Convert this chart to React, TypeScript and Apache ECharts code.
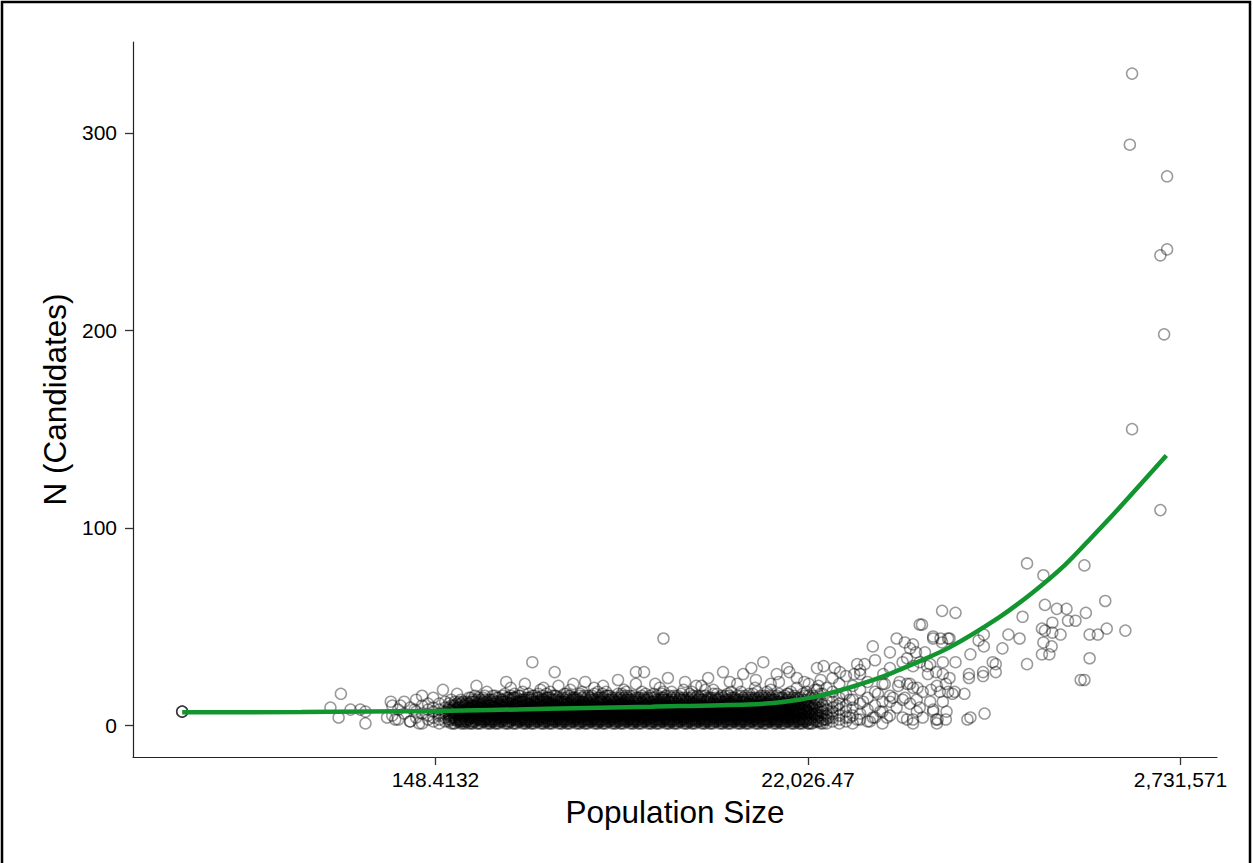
import React, { useEffect, useRef } from "react";
import * as echarts from "echarts";

// x values are ln(population size); y values are candidate counts.
const xTickValues = [5, 10, 15];
const xTickLabels = ["148.4132", "22,026.47", "2,731,571"];
const yTickValues = [0, 100, 200, 300];

// Dense band of municipalities: each entry is [ln(pop), counts at that size]
const bandColumns: [number, number[]][] = [
  [4.42, [5, 10]], [4.5, [3, 8]], [4.58, [6, 12]], [4.66, [2, 9]],
  [4.74, [4, 7, 13]], [4.82, [1, 6, 10]], [4.9, [3, 5, 8, 11]],
  [4.97, [2, 4, 7, 9, 14]],
  [5.05, [1, 3, 5, 6, 8, 11]],
  [5.13, [2, 4, 6, 7, 9, 12]],
  [5.21, [1, 3, 4, 5, 7, 8, 10, 13]],
  [5.29, [2, 3, 5, 6, 8, 9, 11, 16]],
  [5.37, [1, 2, 4, 5, 6, 7, 9, 10, 12]],
  [5.45, [1, 3, 4, 5, 7, 8, 9, 11, 14]],
  [5.53, [2, 3, 4, 6, 7, 8, 10, 12, 15]],
  [5.61, [1, 2, 3, 5, 6, 7, 9, 10, 11, 13]],
  [5.69, [1, 3, 4, 5, 6, 8, 9, 10, 12, 17]],
  [5.77, [2, 3, 4, 5, 7, 8, 9, 11, 13, 15]],
  [5.85, [1, 2, 4, 5, 6, 7, 8, 10, 11, 14]],
  [5.93, [1, 3, 4, 5, 6, 7, 9, 10, 12, 16]],
  [6.01, [2, 3, 4, 5, 6, 8, 9, 11, 13, 15, 19]],
  [6.09, [1, 2, 3, 5, 6, 7, 8, 10, 11, 12, 14]],
  [6.17, [1, 3, 4, 5, 6, 7, 9, 10, 12, 13, 17]],
  [6.25, [2, 3, 4, 5, 6, 8, 9, 10, 11, 14, 16]],
  [6.33, [1, 2, 4, 5, 6, 7, 8, 9, 11, 12, 15]],
  [6.41, [1, 3, 4, 5, 6, 7, 9, 10, 12, 13, 18]],
  [6.49, [2, 3, 4, 5, 7, 8, 9, 11, 12, 14, 16]],
  [6.57, [1, 2, 3, 5, 6, 7, 8, 10, 11, 13, 15]],
  [6.65, [1, 3, 4, 5, 6, 7, 9, 10, 11, 12, 14, 20]],
  [6.73, [2, 3, 4, 5, 6, 8, 9, 10, 12, 13, 16]],
  [6.81, [1, 2, 4, 5, 6, 7, 8, 9, 11, 12, 15, 18]],
  [6.89, [1, 3, 4, 5, 6, 7, 9, 10, 11, 13, 14]],
  [6.97, [2, 3, 4, 5, 7, 8, 9, 10, 12, 14, 17]],
  [7.05, [1, 2, 3, 5, 6, 7, 8, 10, 11, 12, 15]],
  [7.13, [1, 3, 4, 5, 6, 7, 9, 10, 11, 13, 16, 19]],
  [7.21, [2, 3, 4, 5, 6, 8, 9, 10, 12, 13, 14]],
  [7.29, [1, 2, 4, 5, 6, 7, 8, 9, 11, 12, 15, 17]],
  [7.37, [1, 3, 4, 5, 6, 7, 9, 10, 11, 13, 14]],
  [7.45, [2, 3, 4, 5, 7, 8, 9, 10, 12, 13, 16]],
  [7.53, [1, 2, 3, 5, 6, 7, 8, 10, 11, 12, 14, 18]],
  [7.61, [1, 3, 4, 5, 6, 7, 9, 10, 11, 13, 15]],
  [7.69, [2, 3, 4, 5, 6, 8, 9, 10, 12, 13, 14, 21]],
  [7.77, [1, 2, 4, 5, 6, 7, 8, 9, 11, 12, 15, 17]],
  [7.85, [1, 3, 4, 5, 6, 7, 9, 10, 11, 13, 14]],
  [7.93, [2, 3, 4, 5, 7, 8, 9, 10, 12, 14, 16]],
  [8.01, [1, 2, 3, 5, 6, 7, 8, 10, 11, 12, 13, 19]],
  [8.09, [1, 3, 4, 5, 6, 7, 9, 10, 11, 13, 15]],
  [8.17, [2, 3, 4, 5, 6, 8, 9, 10, 12, 13, 14, 17]],
  [8.25, [1, 2, 4, 5, 6, 7, 8, 9, 11, 12, 15]],
  [8.33, [1, 3, 4, 5, 6, 7, 9, 10, 11, 13, 14, 18]],
  [8.41, [2, 3, 4, 5, 7, 8, 9, 10, 12, 13, 16]],
  [8.49, [1, 2, 3, 5, 6, 7, 8, 10, 11, 12, 14]],
  [8.57, [1, 3, 4, 5, 6, 7, 9, 10, 11, 13, 15, 20]],
  [8.65, [2, 3, 4, 5, 6, 8, 9, 10, 12, 13, 14]],
  [8.73, [1, 2, 4, 5, 6, 7, 8, 9, 11, 12, 16, 18]],
  [8.81, [1, 3, 4, 5, 6, 7, 9, 10, 11, 13, 14]],
  [8.89, [2, 3, 4, 5, 7, 8, 9, 10, 12, 13, 15]],
  [8.97, [1, 2, 3, 5, 6, 7, 8, 10, 11, 12, 14, 17]],
  [9.05, [1, 3, 4, 5, 6, 7, 9, 10, 11, 13, 15, 21]],
  [9.13, [2, 3, 4, 5, 6, 8, 9, 10, 12, 13, 14]],
  [9.21, [1, 2, 4, 5, 6, 7, 8, 9, 11, 12, 16]],
  [9.29, [1, 3, 4, 5, 6, 7, 9, 10, 11, 13, 14, 19]],
  [9.37, [2, 3, 4, 5, 7, 8, 9, 10, 12, 13, 15]],
  [9.45, [1, 2, 3, 5, 6, 7, 8, 10, 11, 12, 14, 17]],
  [9.53, [1, 3, 4, 5, 6, 7, 9, 10, 11, 13, 15]],
  [9.61, [2, 3, 4, 5, 6, 8, 9, 10, 12, 14, 16, 22]],
  [9.69, [1, 2, 4, 5, 6, 7, 8, 9, 11, 12, 15]],
  [9.77, [1, 3, 4, 5, 6, 7, 9, 10, 11, 13, 17]],
  [9.85, [2, 3, 4, 5, 7, 8, 10, 12, 14, 19]],
  [9.93, [1, 2, 3, 5, 6, 8, 9, 11, 13, 16]],
  [10.01, [1, 3, 4, 6, 7, 9, 10, 12, 15, 21]],
  [10.09, [2, 3, 5, 6, 8, 10, 11, 14, 18]],
  [10.17, [1, 2, 4, 5, 7, 9, 12, 16, 23]],
  [10.25, [1, 3, 5, 6, 8, 10, 13, 19]],
  [10.33, [2, 4, 6, 7, 9, 12, 17, 24]],
  [10.42, [1, 3, 5, 8, 11, 14, 21]],
  [10.51, [2, 4, 7, 10, 16, 25]],
  [10.6, [1, 5, 9, 13, 20]],
  [10.7, [3, 6, 11, 18, 28]],
  [10.8, [2, 8, 14, 22]],
  [10.9, [4, 10, 17, 33]],
  [11.0, [1, 7, 12, 21]],
  [11.1, [5, 15, 29]],
];

const bandColumnsB: [number, number[]][] = [
  [5.18, [2, 3, 5, 6, 8, 9, 11]],
  [5.26, [1, 3, 4, 6, 7, 8, 10, 12]],
  [5.34, [1, 2, 3, 5, 6, 8, 9, 11, 13]],
  [5.42, [2, 3, 4, 6, 7, 8, 10, 11, 12]],
  [5.5, [1, 2, 4, 5, 6, 7, 9, 10, 12, 13]],
  [5.58, [1, 3, 4, 5, 7, 8, 9, 11, 12, 14]],
  [5.66, [2, 3, 4, 6, 7, 8, 10, 11, 13, 15]],
  [5.74, [1, 2, 3, 5, 6, 7, 9, 10, 12, 13]],
  [5.82, [1, 3, 4, 5, 6, 8, 9, 11, 12, 14]],
  [5.9, [2, 3, 4, 5, 7, 8, 9, 10, 12, 13, 15]],
  [5.98, [1, 2, 4, 5, 6, 7, 8, 10, 11, 13, 14]],
  [6.06, [1, 3, 4, 5, 6, 7, 9, 10, 12, 14, 16]],
  [6.14, [2, 3, 4, 6, 7, 8, 9, 11, 12, 13, 15]],
  [6.22, [1, 2, 3, 5, 6, 7, 8, 10, 11, 13, 14]],
  [6.3, [1, 3, 4, 5, 6, 8, 9, 10, 12, 13, 15]],
  [6.38, [2, 3, 4, 5, 7, 8, 9, 11, 12, 14, 16]],
  [6.46, [1, 2, 4, 5, 6, 7, 8, 10, 11, 12, 13]],
  [6.54, [1, 3, 4, 5, 6, 7, 9, 10, 11, 13, 14, 17]],
  [6.62, [2, 3, 4, 5, 6, 8, 9, 10, 12, 13, 15]],
  [6.7, [1, 2, 3, 5, 6, 7, 8, 9, 11, 12, 14]],
  [6.78, [1, 3, 4, 5, 6, 7, 9, 10, 11, 13, 15]],
  [6.86, [2, 3, 4, 5, 7, 8, 9, 10, 12, 13, 14]],
  [6.94, [1, 2, 4, 5, 6, 7, 8, 10, 11, 12, 15, 16]],
  [7.02, [1, 3, 4, 5, 6, 7, 9, 10, 11, 13, 14]],
  [7.1, [2, 3, 4, 5, 6, 8, 9, 10, 12, 13, 15]],
  [7.18, [1, 2, 3, 5, 6, 7, 8, 9, 11, 12, 14, 17]],
  [7.26, [1, 3, 4, 5, 6, 7, 9, 10, 11, 13, 14]],
  [7.34, [2, 3, 4, 5, 7, 8, 9, 10, 12, 13, 15]],
  [7.42, [1, 2, 4, 5, 6, 7, 8, 10, 11, 12, 14]],
  [7.5, [1, 3, 4, 5, 6, 7, 9, 10, 11, 13, 15, 16]],
  [7.58, [2, 3, 4, 5, 6, 8, 9, 10, 12, 13, 14]],
  [7.66, [1, 2, 3, 5, 6, 7, 8, 9, 11, 12, 15]],
  [7.74, [1, 3, 4, 5, 6, 7, 9, 10, 11, 13, 14]],
  [7.82, [2, 3, 4, 5, 7, 8, 9, 10, 12, 13, 16]],
  [7.9, [1, 2, 4, 5, 6, 7, 8, 10, 11, 12, 14]],
  [7.98, [1, 3, 4, 5, 6, 7, 9, 10, 11, 13, 15]],
  [8.06, [2, 3, 4, 5, 6, 8, 9, 10, 12, 13, 14, 17]],
  [8.14, [1, 2, 3, 5, 6, 7, 8, 9, 11, 12, 15]],
  [8.22, [1, 3, 4, 5, 6, 7, 9, 10, 11, 13, 14]],
  [8.3, [2, 3, 4, 5, 7, 8, 9, 10, 12, 13, 16]],
  [8.38, [1, 2, 4, 5, 6, 7, 8, 10, 11, 12, 14]],
  [8.46, [1, 3, 4, 5, 6, 7, 9, 10, 11, 13, 15]],
  [8.54, [2, 3, 4, 5, 6, 8, 9, 10, 12, 13, 14]],
  [8.62, [1, 2, 3, 5, 6, 7, 8, 9, 11, 12, 15, 18]],
  [8.7, [1, 3, 4, 5, 6, 7, 9, 10, 11, 13, 14]],
  [8.78, [2, 3, 4, 5, 7, 8, 9, 10, 12, 13, 16]],
  [8.86, [1, 2, 4, 5, 6, 7, 8, 10, 11, 12, 14]],
  [8.94, [1, 3, 4, 5, 6, 7, 9, 10, 11, 13, 15]],
  [9.02, [2, 3, 4, 5, 6, 8, 9, 10, 12, 13, 14]],
  [9.1, [1, 2, 3, 5, 6, 7, 8, 9, 11, 12, 15, 17]],
  [9.18, [1, 3, 4, 5, 6, 7, 9, 10, 11, 13, 14]],
  [9.26, [2, 3, 4, 5, 7, 8, 9, 10, 12, 13, 16]],
  [9.34, [1, 2, 4, 5, 6, 7, 8, 10, 11, 12, 14]],
  [9.42, [1, 3, 4, 5, 6, 7, 9, 10, 11, 13, 15]],
  [9.5, [2, 3, 4, 5, 6, 8, 9, 10, 12, 13, 14, 18]],
  [9.58, [1, 2, 3, 5, 6, 7, 8, 9, 11, 12, 15]],
  [9.66, [1, 3, 4, 5, 6, 7, 9, 10, 11, 13, 14]],
  [9.74, [2, 3, 4, 5, 7, 8, 9, 10, 12, 14, 16]],
  [9.82, [1, 2, 4, 5, 6, 8, 10, 11, 13, 15]],
  [9.9, [1, 3, 4, 6, 7, 9, 11, 12, 14]],
  [9.98, [2, 3, 5, 7, 8, 10, 13, 17]],
  [10.06, [1, 4, 6, 9, 11, 15]],
  [10.14, [2, 5, 8, 12, 20]],
];

const bandColumnsC: [number, number[]][] = [
  [5.24, [1, 4, 5, 7, 9, 10]],
  [5.32, [2, 3, 4, 6, 7, 9, 10, 12]],
  [5.4, [1, 2, 3, 5, 6, 7, 8, 10, 11]],
  [5.48, [1, 2, 4, 5, 6, 8, 9, 10, 12, 14]],
  [5.56, [1, 3, 4, 5, 6, 7, 9, 10, 11, 13]],
  [5.64, [2, 3, 4, 5, 7, 8, 9, 11, 12, 14]],
  [5.72, [1, 2, 3, 4, 6, 7, 8, 10, 11, 13]],
  [5.8, [1, 2, 3, 5, 6, 7, 9, 10, 11, 12, 15]],
  [5.88, [2, 3, 4, 5, 6, 8, 9, 10, 12, 13]],
  [5.96, [1, 2, 4, 5, 6, 7, 8, 9, 11, 12, 14]],
  [6.04, [1, 3, 4, 5, 6, 7, 8, 10, 11, 13, 14]],
  [6.12, [2, 3, 4, 5, 6, 7, 9, 10, 11, 12, 15]],
  [6.2, [1, 2, 3, 4, 6, 7, 8, 9, 10, 12, 13]],
  [6.28, [1, 2, 3, 5, 6, 7, 8, 9, 11, 13, 14]],
  [6.36, [2, 3, 4, 5, 6, 7, 9, 10, 11, 12, 14]],
  [6.44, [1, 2, 3, 4, 6, 7, 8, 9, 10, 12, 13, 15]],
  [6.52, [1, 2, 3, 5, 6, 7, 8, 10, 11, 12, 14]],
  [6.6, [2, 3, 4, 5, 6, 7, 9, 10, 11, 13, 15]],
  [6.68, [1, 2, 3, 4, 6, 7, 8, 9, 10, 12, 13]],
  [6.76, [1, 2, 3, 5, 6, 7, 8, 9, 11, 12, 14, 16]],
  [6.84, [2, 3, 4, 5, 6, 7, 9, 10, 11, 13, 14]],
  [6.92, [1, 2, 3, 4, 6, 7, 8, 9, 10, 12, 13]],
  [7.0, [1, 2, 3, 5, 6, 7, 8, 10, 11, 12, 15]],
  [7.08, [2, 3, 4, 5, 6, 7, 9, 10, 11, 13, 14]],
  [7.16, [1, 2, 3, 4, 6, 7, 8, 9, 10, 12, 13]],
  [7.24, [1, 2, 3, 5, 6, 7, 8, 9, 11, 12, 14, 16]],
  [7.32, [2, 3, 4, 5, 6, 7, 9, 10, 11, 13, 15]],
  [7.4, [1, 2, 3, 4, 6, 7, 8, 9, 10, 12, 13]],
  [7.48, [1, 2, 3, 5, 6, 7, 8, 10, 11, 12, 14]],
  [7.56, [2, 3, 4, 5, 6, 7, 9, 10, 11, 13, 15, 17]],
  [7.64, [1, 2, 3, 4, 6, 7, 8, 9, 10, 12, 13]],
  [7.72, [1, 2, 3, 5, 6, 7, 8, 9, 11, 12, 14]],
  [7.8, [2, 3, 4, 5, 6, 7, 9, 10, 11, 13, 14]],
  [7.88, [1, 2, 3, 4, 6, 7, 8, 9, 10, 12, 15]],
  [7.96, [1, 2, 3, 5, 6, 7, 8, 10, 11, 12, 13]],
  [8.04, [2, 3, 4, 5, 6, 7, 9, 10, 11, 13, 14, 16]],
  [8.12, [1, 2, 3, 4, 6, 7, 8, 9, 10, 12, 13]],
  [8.2, [1, 2, 3, 5, 6, 7, 8, 9, 11, 12, 15]],
  [8.28, [2, 3, 4, 5, 6, 7, 9, 10, 11, 13, 14]],
  [8.36, [1, 2, 3, 4, 6, 7, 8, 9, 10, 12, 13]],
  [8.44, [1, 2, 3, 5, 6, 7, 8, 10, 11, 12, 14, 17]],
  [8.52, [2, 3, 4, 5, 6, 7, 9, 10, 11, 13, 15]],
  [8.6, [1, 2, 3, 4, 6, 7, 8, 9, 10, 12, 13]],
  [8.68, [1, 2, 3, 5, 6, 7, 8, 9, 11, 12, 14]],
  [8.76, [2, 3, 4, 5, 6, 7, 9, 10, 11, 13, 14]],
  [8.84, [1, 2, 3, 4, 6, 7, 8, 9, 10, 12, 15]],
  [8.92, [1, 2, 3, 5, 6, 7, 8, 10, 11, 12, 13, 16]],
  [9.0, [2, 3, 4, 5, 6, 7, 9, 10, 11, 13, 14]],
  [9.08, [1, 2, 3, 4, 6, 7, 8, 9, 10, 12, 13]],
  [9.16, [1, 2, 3, 5, 6, 7, 8, 9, 11, 12, 15]],
  [9.24, [2, 3, 4, 5, 6, 7, 9, 10, 11, 13, 14]],
  [9.32, [1, 2, 3, 4, 6, 7, 8, 9, 10, 12, 13, 17]],
  [9.4, [1, 2, 3, 5, 6, 7, 8, 10, 11, 12, 14]],
  [9.48, [2, 3, 4, 5, 6, 7, 9, 10, 11, 13, 15]],
  [9.56, [1, 2, 3, 4, 6, 7, 8, 9, 10, 12, 13]],
  [9.64, [1, 2, 3, 5, 6, 7, 8, 9, 11, 12, 14]],
  [9.72, [2, 3, 4, 5, 6, 7, 9, 10, 11, 13, 16]],
  [9.8, [1, 2, 3, 4, 6, 7, 8, 10, 12, 14]],
  [9.88, [1, 2, 3, 5, 6, 8, 9, 11, 13]],
  [9.96, [2, 3, 4, 6, 7, 9, 10, 12, 15]],
  [10.04, [1, 3, 5, 7, 8, 11, 14]],
  [10.12, [2, 4, 6, 9, 13, 18]],
  [10.2, [1, 3, 7, 10, 16]],
];

// Individual municipalities outside the dense band: [ln(pop), count]
const sparsePoints: [number, number][] = [
  [1.6, 7], [1.6, 7], [1.6, 7],
  [3.59, 9], [3.73, 16], [3.7, 4], [3.86, 8], [3.99, 8], [4.06, 7], [4.06, 1],
  [4.4, 12], [4.35, 4], [4.46, 3], [4.53, 10], [4.66, 2], [4.78, 1], [4.82, 15], [4.72, 8],
  [6.3, 32], [6.6, 27], [7.01, 22], [7.69, 27], [7.8, 27], [8.12, 24], [8.06, 44],
  [8.66, 24], [8.86, 27], [9.24, 29], [9.4, 32], [9.13, 26], [9.72, 29], [9.75, 27],
  [9.58, 26], [10.12, 29], [10.21, 30],
  [5.1, 18], [5.55, 20], [5.95, 22], [6.2, 21], [6.45, 19], [6.85, 21], [7.25, 20],
  [7.45, 23], [7.95, 21], [8.35, 22], [8.5, 20], [8.95, 22], [9.3, 23], [9.5, 21],
  [9.85, 24], [9.95, 22],
  [10.36, 29], [10.43, 27], [10.66, 31], [10.76, 31], [10.62, 26], [10.7, 26],
  [10.87, 40], [11.01, 26], [11.1, 37], [11.19, 44], [11.3, 42], [11.41, 41],
  [11.5, 51], [11.68, 44], [11.8, 42], [11.88, 44], [11.57, 37], [11.27, 32],
  [11.41, 30], [11.6, 30], [11.81, 32], [11.03, 21], [11.21, 20], [11.37, 21],
  [11.47, 19], [11.73, 20], [11.88, 17], [10.94, 16], [11.14, 14], [11.27, 13],
  [11.46, 13], [11.64, 12], [11.81, 12], [11.86, 7], [11.19, 9], [11.33, 3],
  [11.41, 1], [11.46, 7], [11.68, 8], [11.73, 1], [11.1, 12], [10.87, 4], [10.83, 2],
  [10.56, 4], [10.66, 3], [10.27, 4], [10.23, 3], [10.0, 1], [10.47, 16], [10.56, 13],
  [10.74, 12], [10.39, 10], [10.97, 7], [11.06, 4],
  [11.37, 39], [11.45, 37], [11.68, 45], [11.78, 44], [11.9, 44], [11.33, 34],
  [11.5, 32], [11.64, 31], [11.72, 27], [11.81, 26], [11.9, 24], [11.85, 21],
  [11.23, 22], [11.33, 21], [11.41, 19], [11.54, 17], [11.65, 18], [11.77, 17],
  [11.94, 16], [11.37, 11], [11.5, 9], [11.27, 4], [11.41, 3], [11.54, 4],
  [11.72, 3], [11.3, 14], [11.61, 26],
  [12.94, 82], [13.16, 76], [13.71, 81], [13.99, 63], [13.18, 61], [13.34, 59],
  [13.47, 59], [13.73, 57], [13.49, 53], [13.59, 53], [13.28, 52], [12.88, 55],
  [11.8, 58], [11.98, 57], [11.53, 51], [13.14, 49], [13.18, 48], [13.28, 47],
  [13.39, 46], [13.78, 46], [13.89, 46], [14.01, 49], [14.26, 48], [13.16, 42],
  [13.27, 40], [12.69, 46], [12.84, 44], [12.61, 39], [12.36, 46], [12.29, 43],
  [12.36, 40], [12.18, 36], [13.14, 36], [13.24, 36], [13.78, 34], [12.94, 31],
  [12.48, 32], [12.52, 31], [12.52, 27], [12.35, 27], [12.35, 25], [12.16, 26],
  [12.16, 24], [13.66, 23], [13.71, 23], [11.98, 32], [12.1, 16], [12.37, 6],
  [12.18, 4], [12.14, 3], [11.85, 3], [11.74, 3], [11.97, 17], [11.68, 7],
  [14.35, 330], [14.32, 294], [14.82, 278], [14.82, 241], [14.73, 238],
  [14.78, 198], [14.35, 150], [14.73, 109],
];

// Fitted trend of candidates against ln(pop)
const fitCurve: [number, number][] = [
  [1.6, 6.6], [3.2, 6.8], [5.0, 7.3], [6.5, 8.4], [7.9, 9.5], [9.2, 10.6],
  [9.66, 11.8], [10.12, 14.7], [10.56, 19.2], [11.01, 24.8], [11.46, 31.9],
  [11.9, 39.5], [12.56, 54.6], [13.0, 66.8], [13.44, 80.9], [13.79, 94.5],
  [14.14, 108.5], [14.81, 136.6],
];

const FONT = "'Liberation Sans', Arial, Helvetica, sans-serif";

export default function App() {
  const ref = useRef<HTMLDivElement>(null);

  useEffect(() => {
    if (!ref.current) return;
    const chart = echarts.init(ref.current, undefined, { renderer: "svg" });

    const expand = (cols: [number, number[]][]) =>
      cols.flatMap(([x, ys]) => ys.map((y) => [x, y] as [number, number]));

    const points: [number, number][] = [
      ...expand(bandColumns),
      ...expand(bandColumnsB),
      ...expand(bandColumnsC),
      ...sparsePoints,
    ];

    chart.setOption({
      animation: false,
      backgroundColor: "#ffffff",
      grid: { left: 133, right: 36, top: 42, bottom: 106, containLabel: false },
      graphic: [
        {
          type: "rect",
          silent: true,
          z: -10,
          shape: { x: 2, y: 2, width: 1248, height: 900 },
          style: { fill: "none", stroke: "#000", lineWidth: 2.5 },
        },
      ],
      xAxis: {
        type: "value",
        min: 0.94,
        max: 15.49,
        name: "Population Size",
        nameLocation: "middle",
        nameGap: 39,
        nameTextStyle: { fontFamily: FONT, fontSize: 31.5, color: "#000" },
        splitLine: { show: false },
        axisLine: { show: true, onZero: false, lineStyle: { color: "#222", width: 1.2 } },
        axisTick: {
          show: true,
          length: 8,
          customValues: xTickValues,
          lineStyle: { color: "#333", width: 1.3 },
        },
        axisLabel: {
          customValues: xTickValues,
          margin: 12,
          fontFamily: FONT,
          fontSize: 21,
          color: "#000",
          formatter: (v: number) => {
            const i = xTickValues.indexOf(Math.round(v));
            return i >= 0 ? xTickLabels[i] : "";
          },
        },
      },
      yAxis: {
        type: "value",
        min: -16,
        max: 346,
        name: "N (Candidates)",
        nameLocation: "middle",
        nameGap: 55,
        nameTextStyle: { fontFamily: FONT, fontSize: 31.5, color: "#000" },
        splitLine: { show: false },
        axisLine: { show: true, onZero: false, lineStyle: { color: "#222", width: 1.2 } },
        axisTick: {
          show: true,
          length: 8,
          customValues: yTickValues,
          lineStyle: { color: "#333", width: 1.3 },
        },
        axisLabel: {
          customValues: yTickValues,
          margin: 16,
          fontFamily: FONT,
          fontSize: 21,
          color: "#000",
        },
      },
      series: [
        {
          type: "scatter",
          data: points,
          symbol: "circle",
          symbolSize: 11,
          silent: true,
          progressive: 0,
          itemStyle: {
            color: "rgba(0,0,0,0)",
            borderColor: "rgba(0,0,0,0.5)",
            borderWidth: 1.5,
          },
        },
        {
          type: "line",
          data: fitCurve,
          showSymbol: false,
          smooth: 0.3,
          silent: true,
          z: 5,
          lineStyle: { color: "#12952f", width: 4.5 },
        },
      ],
    });

    return () => chart.dispose();
  }, []);

  return (
    <div
      ref={ref}
      style={{ position: "absolute", left: 0, top: 0, width: 1253, height: 863 }}
    />
  );
}
